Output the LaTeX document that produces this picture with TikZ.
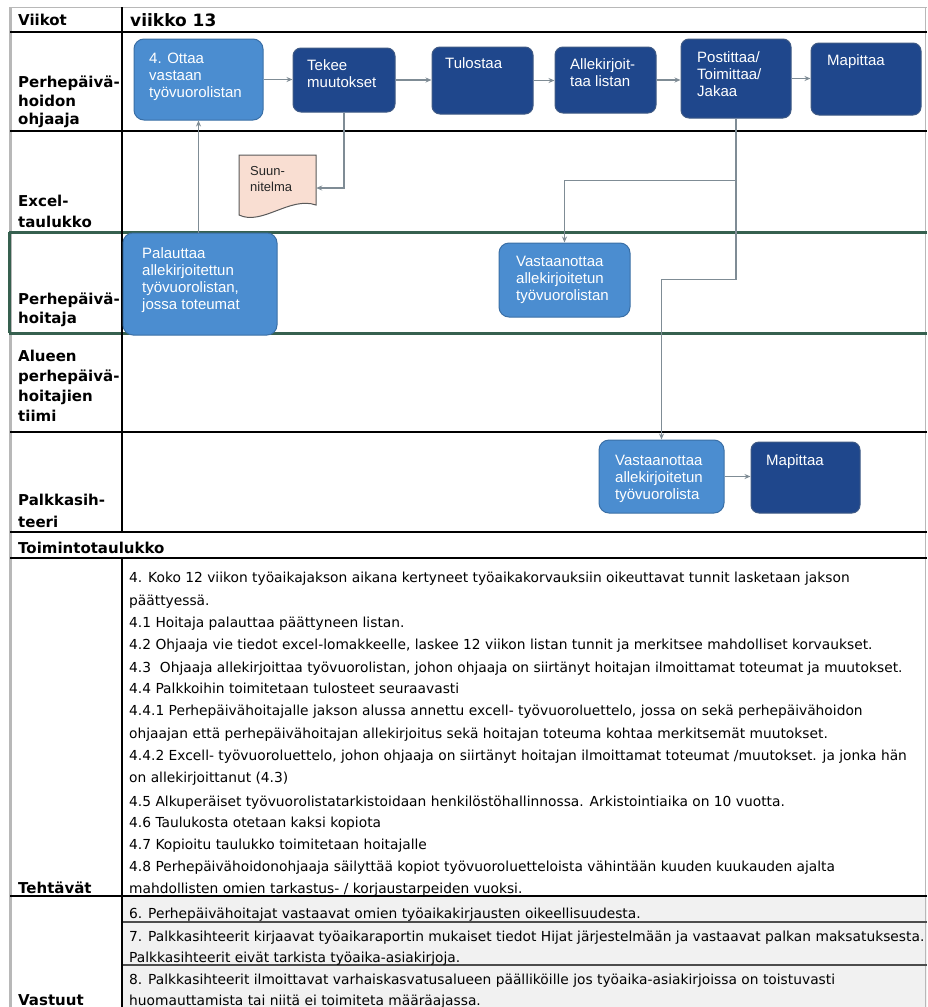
\documentclass[tikz,border=0pt]{standalone}
\usepackage{fontspec}
\setmainfont{Liberation Sans}
\newfontfamily\lblfont{DejaVu Sans}
\newfontfamily\bodyfont{DejaVu Sans}
\usetikzlibrary{arrows.meta}

\definecolor{lightbox}{HTML}{4B8DD0}
\definecolor{lightedge}{HTML}{3A6FA6}
\definecolor{darkbox}{HTML}{1F478C}
\definecolor{darkedge}{HTML}{3F5A85}
\definecolor{flow}{HTML}{7F8C95}
\definecolor{lanegreen}{HTML}{36604F}
\definecolor{docfill}{HTML}{F9DED2}
\definecolor{gridgray}{HTML}{B8B8B8}
\definecolor{respfill}{HTML}{F1F1F1}

\tikzset{
  gridline/.style={line width=2pt, black},
  laneline/.style={line width=3pt, lanegreen},
  lbl/.style={anchor=base west, inner sep=0pt, font=\lblfont\bfseries\fontsize{15}{19}\selectfont},
  body/.style={anchor=base west, inner sep=0pt, font=\bodyfont\fontsize{13.8}{16}\selectfont},
  lightstep/.style={draw=lightedge, fill=lightbox, line width=1pt, rounded corners=10pt, inner sep=0pt},
  darkstep/.style={draw=darkedge, fill=darkbox, line width=1pt, rounded corners=8pt, inner sep=0pt},
  boxtxt/.style={anchor=north west, inner sep=0pt, align=left, text=white, font=\fontsize{15}{17}\selectfont},
  flowarrow/.style={draw=flow, line width=1.2pt, -{Stealth[length=6pt,width=5pt]}},
}

% process box from its corner coordinates (x1,y1)-(x2,y2)
\newcommand\procbox[6]{%
  \node[#2, minimum width={#5-#3}, minimum height={#6-#4}] (#1) at ({(#3+#5)/2},{(#4+#6)/2}) {};}

\begin{document}
\begin{tikzpicture}[x=1pt,y=-1pt]
\useasboundingbox (0,0) rectangle (927,1007);
\fill[white] (0,0) rectangle (927,1007);

% responsibilities background
\fill[respfill] (122,896) rectangle (927,1007);

% outer frame
\draw[gridgray, line width=1pt] (10,7) -- (927,7);
\draw[gridgray, line width=3pt] (10,7) -- (10,1007);
\draw[gridgray, line width=1pt] (925,7) -- (925,1007);

% horizontal grid lines
\foreach \yy in {32,131,432,532,558,896}
  \draw[gridline] (10,\yy) -- (927,\yy);
\draw[line width=2pt, black!70] (122,922) -- (927,922);
\draw[line width=2pt, black!70] (122,965) -- (927,965);

% highlighted lane
\draw[laneline] (9,232) -- (927,232);
\draw[laneline] (9,333) -- (927,333);
\draw[laneline] (9.5,232) -- (9.5,333);

% column divider
\draw[gridline] (122,7) -- (122,532);
\draw[gridline] (122,558) -- (122,1007);

% lane labels
\node[lbl] (hWeeks) at (18,25) {Viikot};
\node[anchor=base west, inner sep=0pt, font=\lblfont\bfseries\fontsize{17}{20}\selectfont] (hWeek13) at (130,26) {viikko 13};
\node[lbl] (l1a) at (18,87) {Perhepäivä-};
\node[lbl] (l1b) at (18,106) {hoidon};
\node[lbl] (l1c) at (18,124) {ohjaaja};
\node[lbl] (l2a) at (18,206) {Excel-};
\node[lbl] (l2b) at (18,227) {taulukko};
\node[lbl] (l3a) at (18,304) {Perhepäivä-};
\node[lbl] (l3b) at (18,323) {hoitaja};
\node[lbl] (l4a) at (18,361) {Alueen};
\node[lbl] (l4b) at (18,381) {perhepäivä-};
\node[lbl] (l4c) at (18,401) {hoitajien};
\node[lbl] (l4d) at (18,421) {tiimi};
\node[lbl] (l5a) at (18,505) {Palkkasih-};
\node[lbl] (l5b) at (18,527) {teeri};
\node[lbl] (lTable) at (18,553) {Toimintotaulukko};
\node[lbl] (lTasks) at (18,893) {Tehtävät};
\node[lbl] (lResp) at (18,1005) {Vastuut};

% process boxes
\procbox{A}{lightstep}{134}{39}{263}{120}
\procbox{B}{darkstep}{293}{48}{395}{112}
\procbox{C}{darkstep}{432}{47}{533}{114}
\procbox{D}{darkstep}{555}{47}{656}{113}
\procbox{E}{darkstep}{681}{39}{791}{118}
\procbox{F}{darkstep}{811}{43}{921}{115}
\procbox{P}{lightstep}{123}{233}{277}{335}
\procbox{V3}{lightstep}{499}{243}{630}{317}
\procbox{V5}{lightstep}{599}{440}{724}{513}
\procbox{M5}{darkstep}{751}{442}{860}{513}

\node[boxtxt] (At) at (149,53) {4. Ottaa\\vastaan\\työvuorolistan};
\node[boxtxt] (Bt) at (307,59) {Tekee\\muutokset};
\node[boxtxt] (Ct) at (445,57) {Tulostaa};
\node[boxtxt] (Dt) at (570,58) {Allekirjoit-\\taa listan};
\node[boxtxt] (Et) at (697,51) {Postittaa/\\Toimittaa/\\Jakaa};
\node[boxtxt] (Ft) at (827,54) {Mapittaa};
\node[boxtxt] (Pt) at (142,247) {Palauttaa\\allekirjoitettun\\työvuorolistan,\\jossa toteumat};
\node[boxtxt] (V3t) at (516,256) {Vastaanottaa\\allekirjoitetun\\työvuorolistan};
\node[boxtxt] (V5t) at (615,455) {Vastaanottaa\\allekirjoitetun\\työvuorolista};
\node[boxtxt] (M5t) at (766,454) {Mapittaa};

% document shape
\node[minimum width=77pt, minimum height=60pt, inner sep=0pt] (S) at (277.5,185) {};
\draw[fill=docfill, draw=black!65, line width=1pt]
  (239,215) -- (239,155) -- (316,155) -- (316,205)
  .. controls (290,196) and (262,226) .. (239,215) -- cycle;
\node[anchor=north west, inner sep=0pt, align=left, text=black!85, font=\fontsize{13}{16}\selectfont] (St) at (250,166) {Suun-\\nitelma};

% flow connectors
\draw[flowarrow] (A.east) -- (A.east -| B.west);
\draw[flowarrow] (B.east) -- (B.east -| C.west);
\draw[flowarrow] (C.east) -- (C.east -| D.west);
\draw[flowarrow] (D.east) -- (D.east -| E.west);
\draw[flowarrow] (E.east) -- (E.east -| F.west);
\draw[flowarrow] (B.south) |- ([yshift=-3pt]S.east);
\draw[flowarrow] (P.north -| A.south) -- (A.south);
\draw[flowarrow] (E.south) -- ++(0,62) -| (V3.north);
\draw[flowarrow] (E.south) -- ++(0,161) -| (V5.north);
\draw[flowarrow] (V5.east) -- (V5.east -| M5.west);

% task list
\node[body] (t01) at (129,582) {4. Koko 12 viikon työaikajakson aikana kertyneet työaikakorvauksiin oikeuttavat tunnit lasketaan jakson};
\node[body] (t02) at (129,605) {päättyessä.};
\node[body] (t03) at (129,627) {4.1 Hoitaja palauttaa päättyneen listan.};
\node[body] (t04) at (129,649) {4.2 Ohjaaja vie tiedot excel-lomakkeelle, laskee 12 viikon listan tunnit ja merkitsee mahdolliset korvaukset.};
\node[body] (t05) at (129,672) {4.3\ \ Ohjaaja allekirjoittaa työvuorolistan, johon ohjaaja on siirtänyt hoitajan ilmoittamat toteumat ja muutokset.};
\node[body] (t06) at (129,693) {4.4 Palkkoihin toimitetaan tulosteet seuraavasti};
\node[body] (t07) at (129,715) {4.4.1 Perhepäivähoitajalle jakson alussa annettu excell- työvuoroluettelo, jossa on sekä perhepäivähoidon};
\node[body] (t08) at (129,738) {ohjaajan että perhepäivähoitajan allekirjoitus sekä hoitajan toteuma kohtaa merkitsemät muutokset.};
\node[body] (t09) at (129,760) {4.4.2 Excell- työvuoroluettelo, johon ohjaaja on siirtänyt hoitajan ilmoittamat toteumat /muutokset. ja jonka hän};
\node[body] (t10) at (129,782) {on allekirjoittanut (4.3)};
\node[body] (t11) at (129,806) {4.5 Alkuperäiset työvuorolistatarkistoidaan henkilöstöhallinnossa. Arkistointiaika on 10 vuotta.};
\node[body] (t12) at (129,827) {4.6 Taulukosta otetaan kaksi kopiota};
\node[body] (t13) at (129,849) {4.7 Kopioitu taulukko toimitetaan hoitajalle};
\node[body] (t14) at (129,871) {4.8 Perhepäivähoidonohjaaja säilyttää kopiot työvuoroluetteloista vähintään kuuden kuukauden ajalta};
\node[body] (t15) at (129,893) {mahdollisten omien tarkastus- / korjaustarpeiden vuoksi.};

% responsibilities
\node[body] (r1) at (129,918) {6. Perhepäivähoitajat vastaavat omien työaikakirjausten oikeellisuudesta.};
\node[body] (r2) at (129,941) {7. Palkkasihteerit kirjaavat työaikaraportin mukaiset tiedot Hijat järjestelmään ja vastaavat palkan maksatuksesta.};
\node[body] (r3) at (129,962) {Palkkasihteerit eivät tarkista työaika-asiakirjoja.};
\node[body] (r4) at (129,984) {8. Palkkasihteerit ilmoittavat varhaiskasvatusalueen päälliköille jos työaika-asiakirjoissa on toistuvasti};
\node[body] (r5) at (129,1005) {huomauttamista tai niitä ei toimiteta määräajassa.};
\end{tikzpicture}
\end{document}
